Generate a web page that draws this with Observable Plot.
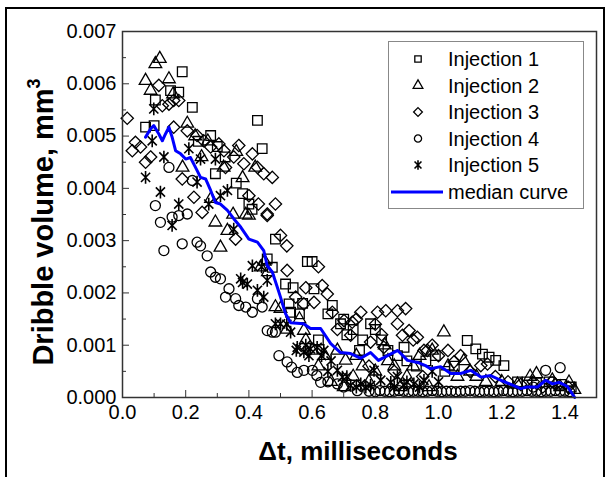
<!DOCTYPE html>
<html><head><meta charset="utf-8">
<script src="https://cdn.jsdelivr.net/npm/d3@7"></script>
<script src="https://cdn.jsdelivr.net/npm/@observablehq/plot@0.6"></script>
<style>
body{margin:0;background:#fff;font-family:"Liberation Sans",Arial,sans-serif;}
#wrap{position:relative;width:611px;height:477px;overflow:hidden;background:#fff;}
#border{position:absolute;left:5px;top:7px;width:600px;height:490px;border:2px solid #000;box-sizing:border-box;}
#chart{position:absolute;left:0;top:0;}
#legend{position:absolute;left:0;top:0;}
</style></head>
<body><div id="wrap"><div id="border"></div><div id="chart"></div><svg id="legend" width="611" height="477"></svg></div>
<script>
// ---- data (Δt in ms, dribble volume in mm^3) ----
const seriesNames = ["Injection 1","Injection 2","Injection 3","Injection 4","Injection 5"];
const medianName = "median curve";
const xTicks = [0,0.2,0.4,0.6,0.8,1.0,1.2,1.4];
const xMinor = [0.1,0.3,0.5,0.7,0.9,1.1,1.3];
const yTicks = [0,0.001,0.002,0.003,0.004,0.005,0.006,0.007];
const yMinor = [0.0005,0.0015,0.0025,0.0035,0.0045,0.0055,0.0065];

const inj1 = [[0.073,0.00517],[0.104,0.00569],[0.10,0.0052],[0.152,0.00587],[0.178,0.00584],[0.189,0.00623],[0.221,0.00555],[0.279,0.00501],[0.294,0.00428],[0.24,0.0049],[0.30,0.0048],[0.325,0.0046],[0.36,0.0041],[0.38,0.0039],[0.40,0.0037],[0.41,0.0036],[0.427,0.0053],[0.442,0.00476],[0.458,0.00265],[0.474,0.00249],[0.484,0.00303],[0.516,0.00217],[0.527,0.00179],[0.532,0.00163],[0.585,0.0026],[0.60,0.0026],[0.606,0.00208],[0.664,0.00176],[0.69,0.00141],[0.73,0.0013],[0.785,0.00141],[0.80,0.0013],[0.84,0.0009],[0.87,0.0008],[0.891,0.00096],[0.93,0.0006],[0.96,0.0007],[0.99,0.0008],[1.02,0.0005],[1.05,0.0006],[1.091,0.00109],[1.118,0.00093],[1.139,0.00083],[1.16,0.00077],[1.181,0.00071],[1.207,0.00061],[1.25,0.0003],[1.28,0.0003],[1.31,0.00028],[1.35,0.0003],[1.39,0.00025],[1.42,0.0002],[0.56,0.0016],[0.62,0.0011],[0.75,0.0009],[0.54,0.0021],[0.57,0.0018],[0.65,0.0016],[0.71,0.0012],[0.76,0.0011],[0.82,0.0011],[0.90,0.0007],[0.70,0.0015]];

const inj2 = [[0.073,0.00606],[0.089,0.00587],[0.104,0.00638],[0.118,0.00648],[0.147,0.00609],[0.16,0.0058],[0.205,0.00524],[0.23,0.0050],[0.19,0.0044],[0.25,0.0046],[0.28,0.0038],[0.294,0.00335],[0.31,0.00287],[0.332,0.00319],[0.35,0.0035],[0.36,0.0047],[0.38,0.0042],[0.40,0.00348],[0.39,0.0035],[0.42,0.0044],[0.437,0.00249],[0.46,0.0024],[0.484,0.00173],[0.50,0.0017],[0.574,0.00128],[0.56,0.0015],[0.60,0.0009],[0.64,0.0008],[0.706,0.00071],[0.73,0.0004],[0.76,0.0006],[0.80,0.0005],[0.83,0.0010],[0.86,0.0006],[0.90,0.0004],[0.94,0.0008],[1.017,0.00125],[1.03,0.0006],[1.06,0.0004],[1.10,0.0005],[1.15,0.0003],[1.20,0.0003],[1.25,0.00025],[1.29,0.0004],[1.31,0.00045],[1.36,0.00033],[1.385,0.0002],[1.413,0.00029],[1.43,0.00015],[0.66,0.0003],[0.70,0.0002],[0.78,0.0003],[0.88,0.0002],[0.97,0.0002],[0.52,0.0013],[0.58,0.0011],[0.62,0.0006],[0.68,0.0009],[0.74,0.0008],[0.84,0.0007],[0.92,0.0006],[0.98,0.0009],[1.08,0.0007],[1.12,0.0004],[0.45,0.0026],[0.32,0.0044],[0.27,0.0049]];

const inj3 = [[0.015,0.00534],[0.031,0.00472],[0.041,0.00488],[0.057,0.00479],[0.073,0.0045],[0.089,0.0046],[0.115,0.00597],[0.126,0.00558],[0.147,0.00561],[0.162,0.00568],[0.178,0.00568],[0.162,0.00517],[0.189,0.00418],[0.205,0.0051],[0.226,0.00383],[0.236,0.00501],[0.252,0.00354],[0.257,0.00491],[0.279,0.00479],[0.305,0.00485],[0.321,0.00472],[0.326,0.0044],[0.352,0.0046],[0.368,0.00482],[0.384,0.00447],[0.40,0.00386],[0.411,0.00466],[0.427,0.0044],[0.447,0.00428],[0.458,0.00351],[0.474,0.00421],[0.484,0.0037],[0.358,0.00303],[0.458,0.00348],[0.50,0.0031],[0.521,0.00243],[0.548,0.00192],[0.574,0.00179],[0.606,0.00182],[0.62,0.0025],[0.632,0.00214],[0.648,0.00198],[0.664,0.00163],[0.701,0.00147],[0.722,0.00119],[0.727,0.00144],[0.754,0.00163],[0.785,0.00106],[0.807,0.00163],[0.827,0.00096],[0.833,0.00166],[0.87,0.00166],[0.87,0.00141],[0.886,0.00119],[0.896,0.0017],[0.907,0.00128],[0.933,0.00115],[0.954,0.0009],[0.965,0.0009],[1.0,0.0008],[1.049,0.00068],[1.07,0.0008],[1.10,0.0005],[1.134,0.00061],[1.155,0.00064],[1.18,0.0004],[1.22,0.0003],[1.26,0.00025],[1.30,0.0003],[1.33,0.0002],[1.37,0.00025],[1.41,0.0002],[0.95,0.0004],[0.86,0.0005],[0.78,0.0006],[0.68,0.0013],[0.74,0.0015],[0.80,0.0014],[0.82,0.0012],[0.92,0.0011],[0.98,0.0010],[1.03,0.0009],[0.58,0.0021],[0.52,0.0029],[0.43,0.0037]];

const inj4 = [[0.104,0.00367],[0.12,0.00335],[0.131,0.00281],[0.147,0.0044],[0.157,0.00345],[0.178,0.00348],[0.189,0.00294],[0.205,0.00351],[0.221,0.00415],[0.236,0.00297],[0.247,0.0029],[0.268,0.00271],[0.279,0.0024],[0.294,0.0023],[0.31,0.00227],[0.326,0.00192],[0.337,0.00208],[0.358,0.00189],[0.368,0.00176],[0.39,0.00173],[0.411,0.00163],[0.427,0.00189],[0.442,0.00173],[0.458,0.00128],[0.474,0.00125],[0.484,0.00125],[0.495,0.0008],[0.521,0.00068],[0.535,0.00058],[0.553,0.00048],[0.574,0.00052],[0.601,0.00052],[0.615,0.00042],[0.627,0.00029],[0.65,0.0003],[0.68,0.00026],[0.70,0.0002],[0.743,0.00013],[0.78,0.00012],[0.80,0.00011],[0.815,0.00013],[0.83,0.00012],[0.845,0.00011],[0.86,0.00012],[0.875,0.00013],[0.89,0.00012],[0.905,0.00011],[0.92,0.00012],[0.935,0.00012],[0.95,0.00011],[0.965,0.00012],[0.98,0.00013],[0.995,0.00012],[1.01,0.00011],[1.025,0.00012],[1.04,0.00012],[1.055,0.00011],[1.07,0.00012],[1.085,0.00012],[1.10,0.00013],[1.115,0.00012],[1.13,0.00011],[1.145,0.00012],[1.16,0.00012],[1.175,0.00011],[1.19,0.00012],[1.205,0.00013],[1.22,0.00012],[1.235,0.00011],[1.25,0.00012],[1.265,0.00012],[1.28,0.00013],[1.295,0.00012],[1.31,0.00012],[1.325,0.00011],[1.34,0.00012],[1.355,0.00012],[1.37,0.00013],[1.385,0.00012],[1.40,0.00012],[1.415,0.00011],[1.339,0.00052],[1.385,0.00057],[1.36,0.0003],[1.30,0.0002]];

const inj5 = [[0.073,0.00421],[0.094,0.00491],[0.099,0.00552],[0.12,0.00393],[0.131,0.0046],[0.157,0.00329],[0.178,0.0037],[0.21,0.00476],[0.236,0.00412],[0.247,0.00456],[0.273,0.0037],[0.294,0.00456],[0.31,0.00386],[0.332,0.00396],[0.352,0.00322],[0.374,0.00227],[0.395,0.00217],[0.411,0.00252],[0.427,0.00205],[0.447,0.00192],[0.458,0.00224],[0.484,0.00141],[0.50,0.00141],[0.532,0.00125],[0.553,0.00096],[0.574,0.00087],[0.595,0.00093],[0.616,0.00096],[0.637,0.0009],[0.66,0.0007],[0.68,0.00052],[0.696,0.00039],[0.722,0.00023],[0.754,0.00026],[0.785,0.00023],[0.796,0.00052],[0.817,0.00033],[0.849,0.00029],[0.87,0.0004],[0.891,0.00023],[0.922,0.00026],[0.954,0.00033],[0.98,0.0005],[1.0,0.0003],[0.71,0.0004],[0.74,0.0002],[0.77,0.0002],[0.59,0.0008],[0.55,0.0009],[0.44,0.0025],[0.38,0.0022],[0.52,0.0014],[0.58,0.0010],[0.63,0.0008],[0.65,0.0005],[0.86,0.0002],[0.90,0.0003],[0.94,0.0002]];

const median = [[0.073,0.00498],[0.089,0.00514],[0.099,0.0052],[0.115,0.00504],[0.126,0.00491],[0.136,0.00504],[0.147,0.00517],[0.157,0.00498],[0.168,0.00472],[0.184,0.00466],[0.20,0.00456],[0.215,0.00459],[0.231,0.0044],[0.247,0.00421],[0.263,0.00418],[0.279,0.00396],[0.294,0.00373],[0.31,0.0037],[0.332,0.00358],[0.352,0.00342],[0.374,0.00326],[0.40,0.00303],[0.427,0.00297],[0.447,0.00281],[0.458,0.00252],[0.474,0.0024],[0.49,0.00211],[0.50,0.00192],[0.516,0.0016],[0.532,0.00143],[0.573,0.00141],[0.595,0.00132],[0.627,0.00132],[0.659,0.00103],[0.69,0.00086],[0.722,0.00084],[0.754,0.00075],[0.785,0.00086],[0.81,0.00071],[0.839,0.0008],[0.871,0.0009],[0.902,0.00071],[0.934,0.00067],[0.959,0.00061],[0.975,0.00055],[1.007,0.00059],[1.039,0.00046],[1.07,0.00046],[1.102,0.00052],[1.134,0.00039],[1.165,0.00042],[1.197,0.00033],[1.229,0.00025],[1.26,0.00017],[1.28,0.0002],[1.313,0.0002],[1.339,0.00033],[1.361,0.00026],[1.382,0.00029],[1.408,0.00021],[1.431,0.0]];

// ---- symbols ----
const diamondSym = {draw(c, size){ const r = Math.sqrt(size)*0.62; c.moveTo(0,-r); c.lineTo(r,0); c.lineTo(0,r); c.lineTo(-r,0); c.closePath(); }};
const asteriskSym = {draw(c, size){ const r = Math.sqrt(size/Math.PI)*1.2; const d = r*0.72; c.moveTo(0,-r); c.lineTo(0,r); c.moveTo(-d,-d); c.lineTo(d,d); c.moveTo(-d,d); c.lineTo(d,-d); }};
const styles = [
  {data: inj1, symbol: "square", r: 5.4, sw: 1.3},
  {data: inj2, symbol: "triangle", r: 4.7, sw: 1.3},
  {data: inj3, symbol: diamondSym, r: 5.6, sw: 1.3},
  {data: inj4, symbol: "circle", r: 5.0, sw: 1.3},
  {data: inj5, symbol: asteriskSym, r: 5.3, sw: 1.6}
];
const toObj = (arr) => arr.map(([x,y]) => ({x, y}));

const font = '"Liberation Sans", Arial, sans-serif';
const chart = Plot.plot({
  width: 611, height: 477,
  marginLeft: 122, marginRight: 15, marginTop: 31, marginBottom: 80,
  x: {domain: [0, 1.5]},
  y: {domain: [0, 0.007]},
  style: {fontFamily: font, fontSize: "20px", color: "#000", background: "transparent", overflow: "visible"},
  marks: [
    ...styles.map(s => Plot.dot(toObj(s.data), {x: "x", y: "y", symbol: s.symbol, r: s.r, stroke: "#000", fill: "none", strokeWidth: s.sw})),
    Plot.line(toObj(median), {x: "x", y: "y", stroke: "#0000ff", strokeWidth: 3}),
    Plot.axisX({ticks: xMinor, tickSize: -4, tickFormat: () => "", label: null, stroke: "#333"}),
    Plot.axisY({ticks: yMinor, tickSize: -4, tickFormat: () => "", label: null, stroke: "#333"}),
    Plot.axisX({ticks: xTicks, tickSize: -7, tickPadding: 14, tickFormat: d => d.toFixed(1), label: null, stroke: "#333", fill: "#000"}),
    Plot.axisY({ticks: yTicks, tickSize: -7, tickPadding: 13, tickFormat: d => d.toFixed(3), label: null, stroke: "#333", fill: "#000"}),
    Plot.frame({stroke: "#333", strokeWidth: 1.5})
  ]
});
document.getElementById("chart").appendChild(chart);

const svg = d3.select(chart);
svg.append("text").attr("x", 358).attr("y", 460).attr("text-anchor", "middle")
  .attr("font-family", font).attr("font-weight", "bold").attr("font-size", 26).attr("fill", "#000")
  .text("Δt, milliseconds");
const yt = svg.append("text").attr("transform", "translate(53,222) rotate(-90)").attr("text-anchor", "middle")
  .attr("font-family", font).attr("font-weight", "bold").attr("font-size", 29).attr("fill", "#000");
yt.append("tspan").text("Dribble volume, mm");
yt.append("tspan").attr("dy", -13).attr("font-size", 18).text("3");

// ---- legend ----
const lg = d3.select("#legend");
lg.append("rect").attr("x", 388.5).attr("y", 41.5).attr("width", 195).attr("height", 167)
  .attr("fill", "#fff").attr("stroke", "#888").attr("stroke-width", 1);
const rowY = [59, 85.5, 112, 138.5, 165];
const legSyms = [d3.symbolSquare, d3.symbolTriangle, diamondSym, d3.symbolCircle, asteriskSym];
const legSizes = [3.6, 3.6, 4.0, 3.6, 4.0];
seriesNames.forEach((name, i) => {
  const r = legSizes[i];
  lg.append("path").attr("transform", `translate(418,${rowY[i]})`)
    .attr("d", d3.symbol(legSyms[i], Math.PI * r * r)())
    .attr("fill", "none").attr("stroke", "#000").attr("stroke-width", i === 4 ? 1.6 : 1.3);
  lg.append("text").attr("x", 448).attr("y", rowY[i] + 7).attr("font-family", font).attr("font-size", 20).attr("fill", "#000").text(name);
});
lg.append("line").attr("x1", 391).attr("x2", 443).attr("y1", 192).attr("y2", 192).attr("stroke", "#0000ff").attr("stroke-width", 3);
lg.append("text").attr("x", 448).attr("y", 199).attr("font-family", font).attr("font-size", 20).attr("fill", "#000").text(medianName);
</script>
</body></html>
